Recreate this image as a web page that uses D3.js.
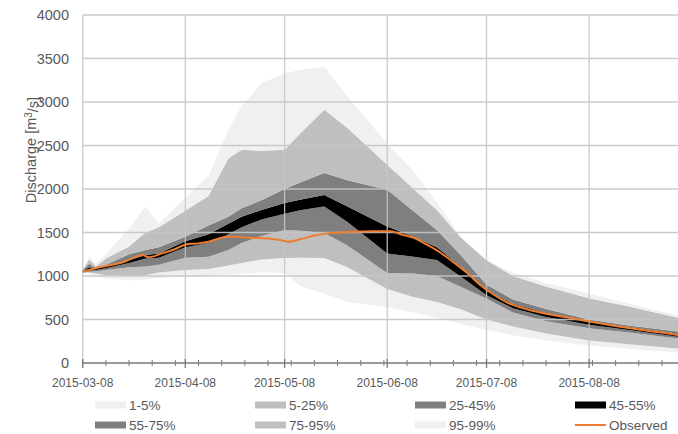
<!DOCTYPE html>
<html>
<head>
<meta charset="utf-8">
<script src="https://cdn.jsdelivr.net/npm/d3@7"></script>
<style>
  html, body { margin: 0; padding: 0; background: #fff; }
  svg { display: block; font-family: "Liberation Sans", Arial, sans-serif; }
</style>
</head>
<body>
<svg id="chart" width="678" height="434"></svg>
<script>
// Ensemble forecast percentiles of discharge (m3/s) and observed discharge
const bandDates = ["2015-03-08","2015-03-10","2015-03-12","2015-03-15","2015-03-22","2015-03-27","2015-03-31",
  "2015-04-08","2015-04-15","2015-04-21","2015-04-25","2015-05-01","2015-05-08","2015-05-13","2015-05-20",
  "2015-05-27","2015-06-08","2015-06-16","2015-06-23","2015-06-30","2015-07-08","2015-07-16","2015-07-26",
  "2015-08-08","2015-08-20","2015-09-04"];
const p1  = [1030,1020,1000,970,950,960,980,992,1000,1010,1030,1040,1034,880,800,700,640,580,520,450,380,320,260,200,160,120];
const p5  = [1040,1040,1030,1010,1000,1010,1040,1069,1080,1120,1150,1190,1207,1210,1207,1100,850,760,700,620,500,420,340,260,215,165];
const p25 = [1040,1050,1055,1070,1100,1110,1130,1210,1220,1300,1380,1460,1530,1520,1494,1350,1034,1030,1000,880,740,580,480,400,350,280];
const p45 = [1040,1060,1070,1090,1150,1200,1210,1330,1380,1480,1560,1650,1715,1760,1800,1620,1260,1220,1184,1000,780,630,530,440,380,300];
const p55 = [1060,1100,1090,1110,1180,1240,1260,1400,1480,1600,1680,1760,1840,1880,1931,1800,1570,1450,1330,1120,830,680,575,480,415,335];
const p75 = [1070,1140,1090,1130,1250,1300,1330,1450,1580,1680,1780,1870,2000,2080,2184,2100,1990,1745,1530,1250,900,730,620,500,430,360];
const p95 = [1070,1190,1110,1200,1340,1500,1560,1750,1920,2350,2450,2440,2450,2650,2910,2700,2280,2000,1760,1450,1180,1000,880,745,650,520];
const p99 = [1070,1230,1140,1250,1550,1800,1600,1900,2150,2680,2950,3215,3330,3370,3406,3060,2520,2200,1850,1460,1180,1040,920,800,680,545];

const obsDates = ["2015-03-08","2015-03-10","2015-03-13","2015-03-17","2015-03-21","2015-03-24","2015-03-26",
  "2015-03-28","2015-04-01","2015-04-05","2015-04-08","2015-04-12","2015-04-15","2015-04-19","2015-04-22",
  "2015-04-27","2015-05-03","2015-05-07","2015-05-09","2015-05-13","2015-05-17","2015-05-21","2015-05-27",
  "2015-06-04","2015-06-09","2015-06-12","2015-06-16","2015-06-20","2015-06-24","2015-06-28","2015-07-02",
  "2015-07-06","2015-07-10","2015-07-14","2015-07-20","2015-07-26","2015-08-02","2015-08-09","2015-08-16",
  "2015-08-23","2015-08-30","2015-09-04"];
const observed = [1050,1070,1100,1130,1170,1220,1240,1215,1260,1310,1360,1375,1394,1440,1455,1440,1430,1410,
  1395,1425,1465,1490,1505,1515,1515,1480,1440,1360,1270,1160,1040,900,790,700,620,565,520,470,425,385,350,320];

const yTicks = [0,500,1000,1500,2000,2500,3000,3500,4000];
const xTickLabels = ["2015-03-08","2015-04-08","2015-05-08","2015-06-08","2015-07-08","2015-08-08"];

const bandNames = ["1-5%","5-25%","25-45%","45-55%","55-75%","75-95%","95-99%"];
const bandColors = ["#f0f0f0","#bfbfbf","#7f7f7f","#000000","#7f7f7f","#bfbfbf","#f0f0f0"];
const obsColor = "#ed7d31";
const textColor = "#595959";

const parse = d3.utcParse("%Y-%m-%d");
const bDates = bandDates.map(parse);
const oDates = obsDates.map(parse);
const levels = [p1, p5, p25, p45, p55, p75, p95, p99];

const svg = d3.select("#chart");
const x = d3.scaleUtc().domain([parse("2015-03-08"), parse("2015-09-04")]).range([82.7, 678.5]);
const y = d3.scaleLinear().domain([0, 4000]).range([363, 15]);

// percentile bands
const bandG = svg.append("g");
bandNames.forEach((name, i) => {
  const lo = levels[i], hi = levels[i + 1];
  const area = d3.area()
    .x((d, k) => x(bDates[k]))
    .y0((d, k) => y(lo[k]))
    .y1((d, k) => y(hi[k]));
  bandG.append("path").datum(bDates).attr("d", area).attr("fill", bandColors[i]);
});

// gridlines
const grid = svg.append("g").attr("stroke", "#c6c6c6").attr("stroke-width", 1.3).attr("opacity", 0.9);
yTicks.filter(v => v > 0).forEach(v => {
  grid.append("line").attr("x1", x.range()[0]).attr("x2", 678).attr("y1", y(v)).attr("y2", y(v));
});
xTickLabels.map(parse).forEach(d => {
  grid.append("line").attr("x1", x(d)).attr("x2", x(d)).attr("y1", y(4000)).attr("y2", y(0));
});

// observed discharge
svg.append("path").datum(observed)
  .attr("fill", "none").attr("stroke", obsColor).attr("stroke-width", 2)
  .attr("d", d3.line().x((d, k) => x(oDates[k])).y(d => y(d)).curve(d3.curveMonotoneX));

// x axis with weekly minor ticks
const xAxisG = svg.append("g").attr("transform", `translate(0,${y(0)})`);
xAxisG.append("line").attr("x1", x.range()[0]).attr("x2", 678).attr("stroke", "#7a7a7a").attr("stroke-width", 1.5);
xAxisG.selectAll(".minor").data(d3.utcDay.range(parse("2015-03-08"), parse("2015-09-05"), 7))
  .join("line").attr("class", "minor").attr("x1", d => x(d)).attr("x2", d => x(d)).attr("y1", -3).attr("y2", 3)
  .attr("stroke", "#7a7a7a").attr("stroke-width", 1);
xAxisG.selectAll(".major").data(xTickLabels.map(parse))
  .join("line").attr("class", "major").attr("x1", d => x(d)).attr("x2", d => x(d)).attr("y1", -4).attr("y2", 5)
  .attr("stroke", "#7a7a7a").attr("stroke-width", 1.3);
xAxisG.selectAll("text").data(xTickLabels)
  .join("text").attr("x", d => x(parse(d))).attr("y", 24)
  .attr("text-anchor", "middle").attr("fill", textColor).attr("font-size", "12px").text(d => d);

// y tick labels
svg.append("g").selectAll("text").data(yTicks)
  .join("text").attr("x", 69).attr("y", d => y(d)).attr("dy", "0.36em")
  .attr("text-anchor", "end").attr("fill", textColor).attr("font-size", "14.5px").text(d => d);

// y axis title
const title = svg.append("text")
  .attr("transform", "translate(36,150) rotate(-90)")
  .attr("text-anchor", "middle").attr("fill", textColor).attr("font-size", "14.5px");
title.append("tspan").text("Discharge [m");
title.append("tspan").attr("dy", "-0.4em").attr("font-size", "10px").text("3");
title.append("tspan").attr("dy", "0.4em").text("/s]");

// legend
const legendItems = bandNames.map((n, i) => ({ name: n, color: bandColors[i], type: "box" }))
  .concat([{ name: "Observed", color: obsColor, type: "line" }]);
const legend = svg.append("g");
legendItems.forEach((it, i) => {
  const col = i % 4, row = Math.floor(i / 4);
  const gx = 95 + col * 160, gy = 405 + row * 20;
  const g = legend.append("g").attr("transform", `translate(${gx},${gy})`);
  if (it.type === "box") {
    g.append("rect").attr("x", 0).attr("y", -3.5).attr("width", 31).attr("height", 7).attr("fill", it.color);
  } else {
    g.append("line").attr("x1", 0).attr("x2", 31).attr("y1", 0).attr("y2", 0)
      .attr("stroke", it.color).attr("stroke-width", 2);
  }
  g.append("text").attr("x", 34).attr("y", 0).attr("dy", "0.36em")
    .attr("fill", textColor).attr("font-size", "13.5px").text(it.name);
});
</script>
</body>
</html>
